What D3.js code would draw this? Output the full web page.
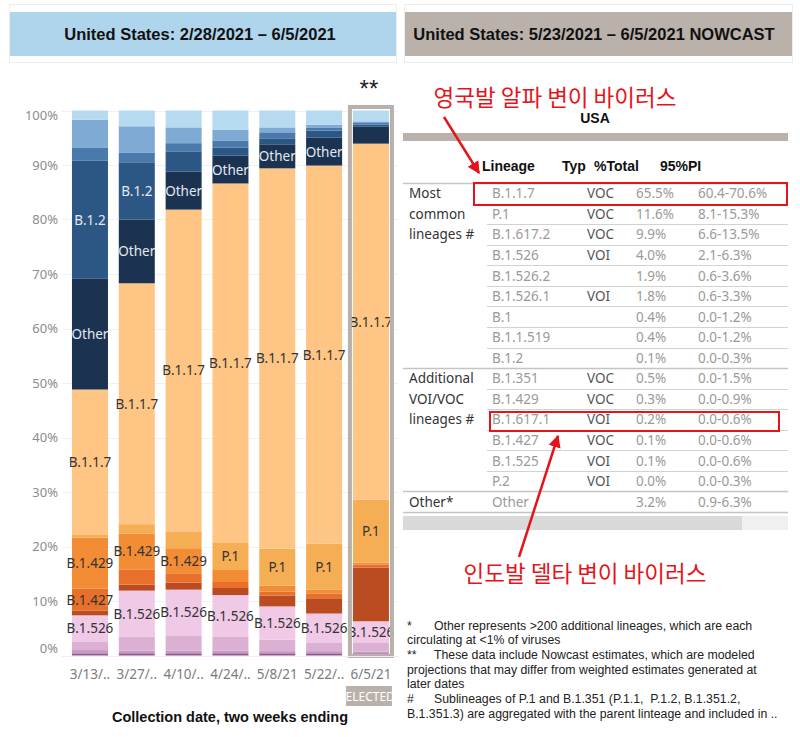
<!DOCTYPE html>
<meta charset="utf-8">
<script src="https://d3js.org/d3.v7.min.js"></script>
<style>
  body { margin: 0; background: #fff; }
  svg { display: block; }
</style>
<div id="chart"></div>
<script>

// bars: share (%) of each lineage per two-week period, bottom to top
var dates = ["3/13/..", "3/27/..", "4/10/..", "4/24/..", "5/8/21", "5/22/..", "6/5/21"];
var lineages = ["B.1.525", "B.1.526.2", "B.1.526.1", "B.1.526", "B.1.617.2", "B.1.427", "B.1.429",
                "P.1", "B.1.1.7", "Other", "B.1.2", "B.1.1.519", "B.1", "R.1"];

var vB1525   = [0.4, 0.4, 0.4, 0.4, 0.4, 0.4, 0.4];
var vB15262  = [0.6, 0.5, 0.5, 0.5, 0.4, 0.4, 0.3];
var vB15261  = [1.6, 2.6, 2.8, 2.5, 2.1, 1.6, 1.6];
var vB1526   = [4.8, 8.4, 8.4, 7.7, 6.1, 5.3, 4.0];
var vB16172  = [0.9, 1.1, 1.3, 1.3, 2.0, 2.8, 9.9];
var vB1427   = [4.0, 2.8, 1.7, 1.1, 0.7, 0.9, 0.5];
var vB1429   = [9.4, 6.6, 4.6, 2.2, 1.1, 0.7, 0.4];
var vP1      = [0.5, 1.7, 3.1, 5.1, 6.8, 8.4, 11.6];
var vB117    = [26.8, 44.2, 59.1, 65.9, 69.7, 69.4, 65.5];
var vOther   = [20.4, 11.7, 7.0, 5.1, 4.4, 5.1, 3.1];
var vB12     = [21.8, 10.5, 3.7, 1.5, 1.1, 1.3, 0.4];
var vB11519  = [2.4, 1.8, 1.5, 1.3, 1.1, 0.6, 0.3];
var vB1      = [5.1, 4.8, 2.9, 2.0, 0.9, 0.5, 0.3];
var vR1      = [1.7, 2.9, 3.1, 3.5, 3.1, 2.6, 2.0];

var shares = [vB1525, vB15262, vB15261, vB1526, vB16172, vB1427, vB1429,
              vP1, vB117, vOther, vB12, vB11519, vB1, vR1];

var labelled = ["B.1.526", "B.1.427", "B.1.429", "P.1", "B.1.1.7", "Other", "B.1.2"];
var yTicks = [0, 10, 20, 30, 40, 50, 60, 70, 80, 90, 100];

// nowcast table
var tLineage = ["B.1.1.7", "P.1", "B.1.617.2", "B.1.526", "B.1.526.2", "B.1.526.1", "B.1", "B.1.1.519", "B.1.2",
                "B.1.351", "B.1.429", "B.1.617.1", "B.1.427", "B.1.525", "P.2", "Other"];
var tType    = ["VOC", "VOC", "VOC", "VOI", "", "VOI", "", "", "",
                "VOC", "VOC", "VOI", "VOC", "VOI", "VOI", ""];
var tTotal   = ["65.5%", "11.6%", "9.9%", "4.0%", "1.9%", "1.8%", "0.4%", "0.4%", "0.1%",
                "0.5%", "0.3%", "0.2%", "0.1%", "0.1%", "0.0%", "3.2%"];
var tPI      = ["60.4-70.6%", "8.1-15.3%", "6.6-13.5%", "2.1-6.3%", "0.6-3.6%", "0.6-3.3%", "0.0-1.2%", "0.0-1.2%", "0.0-0.3%",
                "0.0-1.5%", "0.0-0.9%", "0.0-0.6%", "0.0-0.6%", "0.0-0.6%", "0.0-0.3%", "0.9-6.3%"];
var groupNames = [["Most", "common", "lineages #"], ["Additional", "VOI/VOC", "lineages #"], ["Other*"]];
var groupStart = [0, 9, 15];

var colors = ["#8c5a8f", "#c897c2", "#dcb0d3", "#efc9e6", "#bb4b21", "#e9702a", "#f28d36",
              "#f6ae54", "#fec584", "#1b3350", "#2c5785", "#4a7aab", "#7eaad3", "#b6dbf0"];
var darkText = ["Other", "B.1.2"];

var W = 800, H = 737;
var svg = d3.select("#chart").append("svg").attr("width", W).attr("height", H);

// ---- headers
svg.append("rect").attr("x", 9.5).attr("y", 4.5).attr("width", 387).attr("height", 58)
  .attr("fill", "none").attr("stroke", "#ededed");
svg.append("rect").attr("x", 404.5).attr("y", 4.5).attr("width", 388).attr("height", 58)
  .attr("fill", "none").attr("stroke", "#ededed");
svg.append("rect").attr("x", 10).attr("y", 12).attr("width", 386).attr("height", 44).attr("fill", "#afd5ed");
svg.append("rect").attr("x", 405).attr("y", 12).attr("width", 387).attr("height", 44).attr("fill", "#bab1ab");
svg.append("text").attr("x", 200).attr("y", 34).attr("text-anchor", "middle").attr("dominant-baseline", "central")
  .style("font", "bold 16.5px 'Liberation Sans', Arial, sans-serif").attr("fill", "#111")
  .text("United States: 2/28/2021 – 6/5/2021");
svg.append("text").attr("x", 594).attr("y", 34).attr("text-anchor", "middle").attr("dominant-baseline", "central")
  .style("font", "bold 16.5px 'Liberation Sans', Arial, sans-serif").attr("fill", "#111")
  .text("United States: 5/23/2021 – 6/5/2021 NOWCAST");

// ---- stacked bars
var x = d3.scaleBand().domain(dates).range([62.6, 398.3]).paddingInner(0.231).paddingOuter(0.2);
var y = d3.scaleLinear().domain([0, 1]).range([655.5, 110.5]);

var rows = dates.map(function(d, i) {
  var r = {date: d};
  lineages.forEach(function(k, j) { r[k] = shares[j][i]; });
  return r;
});
var series = d3.stack().keys(lineages).offset(d3.stackOffsetExpand)(rows);

svg.append("g").selectAll("line").data(yTicks).join("line")
  .attr("x1", 62).attr("x2", 398)
  .attr("y1", function(d) { return Math.round(y(d / 100)) + 0.5; })
  .attr("y2", function(d) { return Math.round(y(d / 100)) + 0.5; })
  .attr("stroke", "#f0f0f0");

var yAxis = svg.append("g").attr("transform", "translate(60,0)")
  .call(d3.axisLeft(y).tickValues(yTicks.map(function(d) { return d / 100; }))
    .tickFormat(function(d) { return Math.round(d * 100) + "%"; }).tickSize(0).tickPadding(2));
yAxis.select(".domain").remove();
yAxis.selectAll("text").style("font", "13px 'Noto Sans', sans-serif").attr("fill", "#8c8c8c")
  .attr("dy", function(d) { return d === 0 ? "-0.25em" : (d === 1 ? "0.7em" : "0.32em"); });

svg.append("g").selectAll("g").data(series).join("g")
  .attr("fill", function(d, i) { return colors[i]; })
  .selectAll("rect").data(function(d) { return d; }).join("rect")
    .attr("x", function(d) { return x(d.data.date); })
    .attr("y", function(d) { return y(d[1]); })
    .attr("width", x.bandwidth())
    .attr("height", function(d) { return y(d[0]) - y(d[1]); });

// segment labels
var labs = [];
series.forEach(function(s) {
  if (labelled.indexOf(s.key) < 0) return;
  s.forEach(function(d) {
    if (d.data[s.key] >= 3.9) labs.push({key: s.key, date: d.data.date, mid: (d[0] + d[1]) / 2});
  });
});
svg.append("g").selectAll("text").data(labs).join("text")
  .attr("x", function(d) { return x(d.date) + x.bandwidth() / 2; })
  .attr("y", function(d) { return y(d.mid); })
  .attr("text-anchor", "middle").attr("dominant-baseline", "central")
  .style("font", "13.5px 'Noto Sans', sans-serif")
  .attr("fill", function(d) { return darkText.indexOf(d.key) >= 0 ? "#e3e9f0" : "#333"; })
  .text(function(d) { return d.key; });

// selected last bar
var last = dates[dates.length - 1];
svg.append("rect")
  .attr("x", x(last) - 3).attr("y", y(1) - 3.5)
  .attr("width", x.bandwidth() + 6).attr("height", y(0) - y(1) + 4)
  .attr("fill", "none").attr("stroke", "#b9b0ab").attr("stroke-width", 4);
svg.append("text").attr("x", x(last) + x.bandwidth() / 2 - 2).attr("y", 97).attr("text-anchor", "middle")
  .style("font", "24px 'Liberation Sans', Arial, sans-serif").attr("fill", "#222").text("**");

var xAxis = svg.append("g").attr("transform", "translate(0,656)")
  .call(d3.axisBottom(x).tickSize(0).tickPadding(13));
xAxis.select(".domain").attr("stroke", "#eeeeee");
xAxis.selectAll("text").style("font", "13.5px 'Noto Sans', sans-serif").attr("fill", "#7c7c7c");

var clip = svg.append("clipPath").attr("id", "selclip");
clip.append("rect").attr("x", x(last) - 7).attr("y", 686).attr("width", 46).attr("height", 20);
svg.append("rect").attr("x", x(last) - 7).attr("y", 686).attr("width", 46).attr("height", 20).attr("fill", "#bab1ab");
svg.append("text").attr("clip-path", "url(#selclip)")
  .attr("x", x(last) + 14).attr("y", 696.5).attr("text-anchor", "middle").attr("dominant-baseline", "central")
  .style("font", "12px 'Noto Sans', sans-serif").attr("fill", "#fff").text("SELECTED");

svg.append("text").attr("x", 230).attr("y", 717).attr("text-anchor", "middle").attr("dominant-baseline", "central")
  .style("font", "bold 14.5px 'Liberation Sans', Arial, sans-serif").attr("fill", "#111")
  .text("Collection date, two weeks ending");

// ---- table
svg.append("text").attr("x", 595).attr("y", 118).attr("text-anchor", "middle").attr("dominant-baseline", "central")
  .style("font", "bold 14px 'Liberation Sans', Arial, sans-serif").attr("fill", "#111").text("USA");
svg.append("rect").attr("x", 403).attr("y", 133).attr("width", 385).attr("height", 8).attr("fill", "#bab1ab");

var heads = [["Lineage", 482], ["Typ", 562], ["%Total", 594], ["95%PI", 660]];
svg.append("g").selectAll("text").data(heads).join("text")
  .attr("x", function(d) { return d[1]; }).attr("y", 166).attr("dominant-baseline", "central")
  .style("font", "bold 14px 'Liberation Sans', Arial, sans-serif").attr("fill", "#111")
  .text(function(d) { return d[0]; });

var ry = d3.scaleBand().domain(d3.range(tLineage.length)).range([183, 512]);
var tbl = svg.append("g");
tbl.selectAll("line.row").data(d3.range(tLineage.length + 1)).join("line")
  .attr("x1", function(i) { return (groupStart.indexOf(i) >= 0 || i === tLineage.length) ? 403 : 487; })
  .attr("x2", 788)
  .attr("y1", function(i) { return Math.round(183 + i * ry.step()) + 0.5; })
  .attr("y2", function(i) { return Math.round(183 + i * ry.step()) + 0.5; })
  .attr("stroke", function(i) { return (groupStart.indexOf(i) >= 0 || i === tLineage.length) ? "#c4c4c4" : "#d2d2d2"; })
  .attr("stroke-width", function(i) { return (groupStart.indexOf(i) >= 0 || i === tLineage.length) ? 1.5 : 1; });

var cols = [[tLineage, 492, "#9a9a9a"], [tType, 587, "#555"], [tTotal, 636, "#9a9a9a"], [tPI, 698, "#9a9a9a"]];
cols.forEach(function(c) {
  tbl.append("g").selectAll("text").data(c[0]).join("text")
    .attr("x", c[1]).attr("y", function(d, i) { return ry(i) + ry.bandwidth() / 2; })
    .attr("dominant-baseline", "central")
    .style("font", "13.5px 'Noto Sans', sans-serif").attr("fill", c[2])
    .text(function(d) { return d; });
});
groupNames.forEach(function(g, gi) {
  tbl.append("g").selectAll("text").data(g).join("text")
    .attr("x", 409).attr("y", function(d, i) { return ry(groupStart[gi] + i) + ry.bandwidth() / 2; })
    .attr("dominant-baseline", "central")
    .style("font", "13.5px 'Noto Sans', sans-serif").attr("fill", "#333")
    .text(function(d) { return d; });
});

// scroll bar
svg.append("rect").attr("x", 403).attr("y", 516).attr("width", 385).attr("height", 14).attr("fill", "#f0f0f0");
svg.append("rect").attr("x", 403).attr("y", 516).attr("width", 339).attr("height", 14).attr("fill", "#d9d9d9");

// ---- annotations
var red = "#e5141b";
svg.append("defs").append("marker").attr("id", "ah").attr("viewBox", "0 0 10 10")
  .attr("refX", 9).attr("refY", 5).attr("markerWidth", 5).attr("markerHeight", 5).attr("orient", "auto")
  .append("path").attr("d", "M0,0L10,5L0,10z").attr("fill", red);

svg.append("text").attr("x", 555).attr("y", 96).attr("text-anchor", "middle").attr("dominant-baseline", "central")
  .style("font", "22.5px 'Noto Sans CJK KR', sans-serif").attr("fill", red).text("영국발 알파 변이 바이러스");
svg.append("text").attr("x", 585).attr("y", 572).attr("text-anchor", "middle").attr("dominant-baseline", "central")
  .style("font", "22.5px 'Noto Sans CJK KR', sans-serif").attr("fill", red).text("인도발 델타 변이 바이러스");

svg.append("line").attr("x1", 444).attr("y1", 117).attr("x2", 479).attr("y2", 173)
  .attr("stroke", red).attr("stroke-width", 2.5).attr("marker-end", "url(#ah)");
svg.append("line").attr("x1", 519).attr("y1", 557).attr("x2", 558).attr("y2", 436)
  .attr("stroke", red).attr("stroke-width", 2.5).attr("marker-end", "url(#ah)");

svg.append("rect").attr("x", 474).attr("y", 183).attr("width", 313).attr("height", 22)
  .attr("fill", "none").attr("stroke", red).attr("stroke-width", 2);
svg.append("rect").attr("x", 490).attr("y", 412).attr("width", 289).attr("height", 19)
  .attr("fill", "none").attr("stroke", red).attr("stroke-width", 2);

// ---- footnotes
var notes = [
  ["*", "Other represents >200 additional lineages, which are each", 626],
  ["", "circulating at <1% of viruses", 640],
  ["**", "These data include Nowcast estimates, which are modeled", 655],
  ["", "projections that may differ from weighted estimates generated at", 670],
  ["", "later dates", 684],
  ["#", "Sublineages of P.1 and B.1.351 (P.1.1,  P.1.2, B.1.351.2,", 699],
  ["", "B.1.351.3) are aggregated with the parent linteage and included in ..", 714]
];
var fn = svg.append("g").style("font", "12.3px 'Liberation Sans', Arial, sans-serif").attr("fill", "#222");
notes.forEach(function(n) {
  if (n[0]) fn.append("text").attr("x", 407).attr("y", n[2]).attr("dominant-baseline", "central").text(n[0]);
  fn.append("text").attr("x", n[0] ? 434 : 407).attr("y", n[2]).attr("dominant-baseline", "central")
    .style("white-space", "pre").attr("xml:space", "preserve").text(n[1]);
});

</script>
